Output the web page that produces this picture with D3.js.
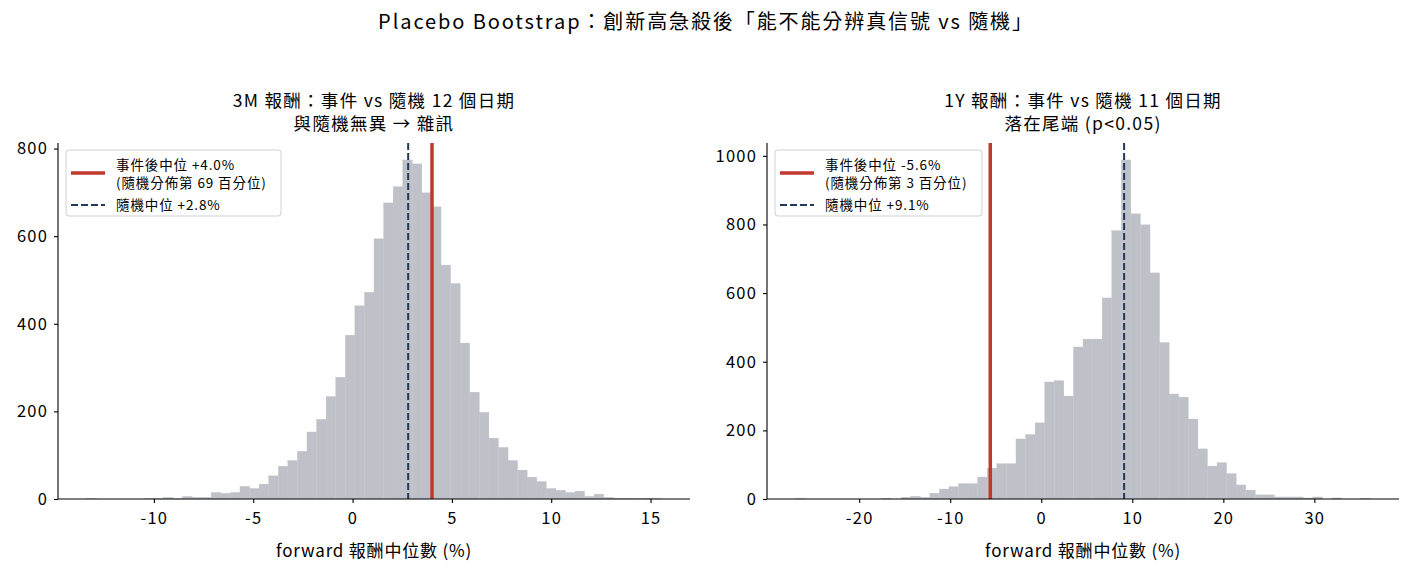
<!DOCTYPE html>
<html><head><meta charset="utf-8">
<script src="https://cdn.jsdelivr.net/npm/d3@7"></script>
<style>
html,body{margin:0;padding:0;background:#fff;}
svg text{font-family:"Noto Sans CJK TC","Noto Sans",sans-serif;fill:#000;}
</style></head>
<body><svg id="c" width="1413" height="574"></svg>
<script>
// ---- data ----
const suptitle = "Placebo Bootstrap：創新高急殺後「能不能分辨真信號 vs 隨機」";
const titles3M = ["3M 報酬：事件 vs 隨機 12 個日期", "與隨機無異 → 雜訊"];
const titles1Y = ["1Y 報酬：事件 vs 隨機 11 個日期", "落在尾端 (p<0.05)"];
const xLabel = "forward 報酬中位數 (%)";

// histogram bin range (min, max of bootstrap medians) and counts for 60 bins
const range3M = [-13.38, 15.54];
const counts3M = [1,0,0,0,0,0,1,1,4,1,6,4,4,15,13,15,29,24,34,53,
  75,88,109,153,182,234,278,374,441,472,594,676,713,774,765,699,667,534,492,356,
  244,198,139,118,88,66,50,40,24,20,15,18,6,11,4,2,2,1,2,1];
const range1Y = [-26.97, 36.14];
const counts1Y = [1,0,0,0,0,0,0,0,0,2,0,5,8,5,17,29,36,45,45,64,
  90,103,103,175,188,222,341,345,300,443,466,466,586,782,988,831,799,659,456,306,
  297,233,146,96,106,74,41,26,12,12,6,6,6,3,6,0,3,0,0,2];

const eventMed3M = 4.0, randMed3M = 2.8;
const eventMed1Y = -5.6, randMed1Y = 9.1;
const legend3M = ["事件後中位 +4.0%", "(隨機分佈第 69 百分位)", "隨機中位 +2.8%"];
const legend1Y = ["事件後中位 -5.6%", "(隨機分佈第 3 百分位)", "隨機中位 +9.1%"];
const xTicks3M = [-10, -5, 0, 5, 10, 15];
const yTicks3M = [0, 200, 400, 600, 800];
const xTicks1Y = [-20, -10, 0, 10, 20, 30];
const yTicks1Y = [0, 200, 400, 600, 800, 1000];

// ---- drawing ----
const svg = d3.select("#c");
const BAR = "#bec1c8", RED = "#c0392b", NAVY = "#22395c";

svg.append("text").attr("x", 706).attr("y", 29).attr("text-anchor", "middle")
  .style("font-size", "20px").style("letter-spacing", "1.9px").text(suptitle);

function panel(o) {
  const top = 143, bottom = 499;
  const n = o.counts.length;
  const span = o.range[1] - o.range[0];
  const pad = span * 0.05;
  const x = d3.scaleLinear().domain([o.range[0] - pad, o.range[1] + pad]).range([o.left, o.right]);
  const ymax = d3.max(o.counts) * 1.05;
  const y = d3.scaleLinear().domain([0, ymax]).range([bottom, top]);
  const w = span / n;
  const bins = o.counts.map((c, i) => ({x0: o.range[0] + i * w, x1: o.range[0] + (i + 1) * w, c}));
  const g = svg.append("g");
  g.selectAll("rect").data(bins.filter(b => b.c > 0)).join("rect")
    .attr("x", b => x(b.x0)).attr("width", b => x(b.x1) - x(b.x0))
    .attr("y", b => y(b.c)).attr("height", b => y(0) - y(b.c))
    .attr("fill", BAR).attr("stroke", BAR).attr("stroke-width", 0.3);
  // vertical lines
  g.append("line").attr("x1", x(o.event)).attr("x2", x(o.event)).attr("y1", top).attr("y2", bottom)
    .attr("stroke", RED).attr("stroke-width", 3.5);
  g.append("line").attr("x1", x(o.rand)).attr("x2", x(o.rand)).attr("y1", top).attr("y2", bottom)
    .attr("stroke", NAVY).attr("stroke-width", 2).attr("stroke-dasharray", "7,3");
  // axes
  const fmt = d => String(d);
  const xa = g.append("g").attr("transform", `translate(0,${bottom})`)
    .call(d3.axisBottom(x).tickValues(o.xTicks).tickSize(4).tickPadding(9).tickFormat(fmt));
  const ya = g.append("g").attr("transform", `translate(${o.left},0)`)
    .call(d3.axisLeft(y).tickValues(o.yTicks).tickSize(4).tickPadding(6).tickFormat(fmt));
  [xa, ya].forEach(a => {
    a.select(".domain").attr("stroke", "#000").attr("stroke-width", 1.1);
    a.selectAll(".tick line").attr("stroke", "#000").attr("stroke-width", 1.1);
    a.selectAll(".tick text").style("font-size", "16.5px").style("letter-spacing", "1.2px").attr("fill", "#000");
  });
  xa.select(".domain").attr("d", `M${o.left},0H${o.right}`);
  ya.select(".domain").attr("d", `M0,${bottom}V${top}`);
  // titles
  const cx = (o.left + o.right) / 2;
  [[o.titles[0], 107], [o.titles[1], 130]].forEach(([t, yy]) => {
    g.append("text").attr("x", cx).attr("y", yy).attr("text-anchor", "middle")
      .style("font-size", "17.5px").style("letter-spacing", "1.3px").text(t);
  });
  g.append("text").attr("x", cx).attr("y", 557).attr("text-anchor", "middle")
    .style("font-size", "17px").style("letter-spacing", "0.8px").text(xLabel);
  // legend
  const lx = o.left + 8, ly = 150;
  g.append("rect").attr("x", lx).attr("y", ly).attr("width", o.legW).attr("height", 66).attr("rx", 3)
    .attr("fill", "#fff").attr("fill-opacity", 0.85).attr("stroke", "#d0d0d0").attr("stroke-width", 1);
  g.append("line").attr("x1", lx + 5).attr("x2", lx + 39).attr("y1", ly + 23).attr("y2", ly + 23)
    .attr("stroke", RED).attr("stroke-width", 3.5);
  g.append("line").attr("x1", lx + 5).attr("x2", lx + 39).attr("y1", ly + 55).attr("y2", ly + 55)
    .attr("stroke", NAVY).attr("stroke-width", 2).attr("stroke-dasharray", "7,3");
  [[o.legend[0], 19.5], [o.legend[1], 37.5], [o.legend[2], 59.5]].forEach(([t, dy]) => {
    g.append("text").attr("x", lx + 50).attr("y", ly + dy).style("font-size", "13.5px")
      .style("letter-spacing", "0.9px").text(t);
  });
}

panel({left: 58, right: 690, range: range3M, counts: counts3M, event: eventMed3M, rand: randMed3M,
  xTicks: xTicks3M, yTicks: yTicks3M, titles: titles3M, legend: legend3M, legW: 215});
panel({left: 767, right: 1399, range: range1Y, counts: counts1Y, event: eventMed1Y, rand: randMed1Y,
  xTicks: xTicks1Y, yTicks: yTicks1Y, titles: titles1Y, legend: legend1Y, legW: 207});
</script></body></html>
